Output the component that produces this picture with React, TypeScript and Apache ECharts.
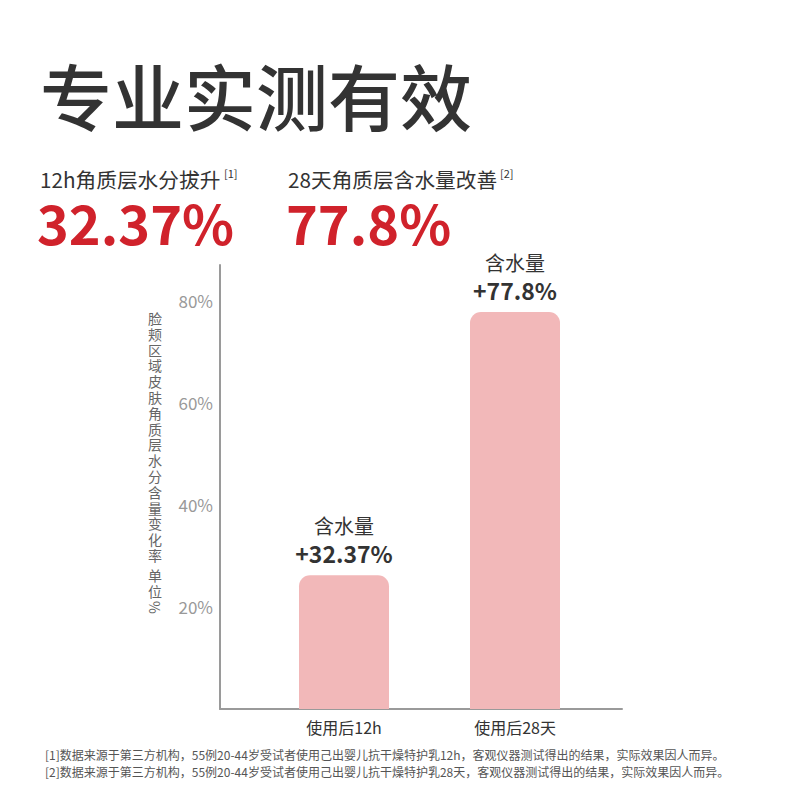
import React, { useEffect, useRef } from "react";
import * as echarts from "echarts";

const categories = ["使用后12h", "使用后28天"];
// bar heights as drawn in the picture (percent on the y axis)
const barHeights = [26.2, 77.8];
// texts written above the bars
const barLabelTitles = ["含水量", "含水量"];
const barLabelValues = ["+32.37%", "+77.8%"];
const yTickValues = [20, 40, 60, 80];

const title = "专业实测有效";
const headlines = ["12h角质层水分拔升", "28天角质层含水量改善"];
const headlineRefs = ["[1]", "[2]"];
const headlineValues = ["32.37%", "77.8%"];
const yAxisNameChars = "脸颊区域皮肤角质层水分含量变化率";
const yAxisUnitChars = "单位";
const footnotes = [
  "[1]数据来源于第三方机构，55例20-44岁受试者使用己出婴儿抗干燥特护乳12h，客观仪器测试得出的结果，实际效果因人而异。",
  "[2]数据来源于第三方机构，55例20-44岁受试者使用己出婴儿抗干燥特护乳28天，客观仪器测试得出的结果，实际效果因人而异。",
];

const FONT = '"Noto Sans CJK SC", "Noto Sans", sans-serif';
const DARK = "#333333";
const RED = "#d0222b";
const AXIS = "#9a9a9a";

export default function App() {
  const ref = useRef<HTMLDivElement>(null);
  useEffect(() => {
    if (!ref.current) return;
    const chart = echarts.init(ref.current, null, { renderer: "svg", width: 800, height: 800 });
    const yMax = 87;
    const nameTexts: any[] = [];
    yAxisNameChars.split("").forEach((c, i) => {
      nameTexts.push({
        type: "text",
        x: 155,
        y: 318 + i * 15.8,
        style: { text: c, font: `14px ${FONT}`, fill: "#666666", textAlign: "center", textVerticalAlign: "middle" },
      });
    });
    yAxisUnitChars.split("").forEach((c, i) => {
      nameTexts.push({
        type: "text",
        x: 155,
        y: 575 + i * 15.8,
        style: { text: c, font: `14px ${FONT}`, fill: "#666666", textAlign: "center", textVerticalAlign: "middle" },
      });
    });
    nameTexts.push({
      type: "text",
      x: 155,
      y: 601,
      rotation: -Math.PI / 2,
      style: { text: "%", font: `14px ${FONT}`, fill: "#666666", textAlign: "left", textVerticalAlign: "middle" },
    });
    const option: any = {
      animation: false,
      backgroundColor: "#ffffff",
      textStyle: { fontFamily: FONT },
      grid: [
        { left: 220, top: 265, width: 402, height: 444 },
        { left: 258.5, top: 265, width: 342, height: 444 },
      ],
      xAxis: [
        {
          gridIndex: 0,
          type: "category",
          data: categories,
          axisLine: { show: true, lineStyle: { color: AXIS, width: 2 } },
          axisTick: { show: false },
          axisLabel: { show: false },
        },
        {
          gridIndex: 1,
          type: "category",
          data: categories,
          axisLine: { show: false },
          axisTick: { show: false },
          axisLabel: { color: DARK, fontSize: 16, margin: 10, fontFamily: FONT },
        },
      ],
      yAxis: [
        {
          gridIndex: 0,
          type: "value",
          min: 0,
          max: yMax,
          axisLine: { show: true, lineStyle: { color: AXIS, width: 2 } },
          axisTick: { show: false },
          splitLine: { show: false },
          axisLabel: {
            customValues: yTickValues,
            color: "#999999",
            fontSize: 17,
            margin: 7,
            fontFamily: FONT,
            formatter: (v: number) => v + "%",
          },
        },
        {
          gridIndex: 1,
          type: "value",
          min: 0,
          max: yMax,
          show: false,
          splitLine: { show: false },
        },
      ],
      series: [
        {
          type: "bar",
          xAxisIndex: 1,
          yAxisIndex: 1,
          barWidth: 90,
          data: barHeights.map((v, i) => ({
            value: v,
            label: {
              formatter: "{a|" + barLabelTitles[i] + "}\n{b|" + barLabelValues[i] + "}",
            },
          })),
          itemStyle: { color: "#f2b8b9", borderRadius: [11, 11, 0, 0] },
          label: {
            show: true,
            position: "top",
            distance: 8,
            rich: {
              a: { fontSize: 20, lineHeight: 27, color: DARK, fontFamily: FONT, align: "center" },
              b: { fontSize: 23, lineHeight: 28, color: DARK, fontWeight: "bold", fontFamily: FONT, align: "center" },
            },
          },
        },
      ],
      graphic: [
        {
          type: "text",
          left: 40,
          top: 57,
          style: { text: title, font: `500 72px ${FONT}`, fill: DARK },
        },
        {
          type: "text",
          x: 40,
          y: 179,
          style: { text: headlines[0], font: `20.7px ${FONT}`, fill: DARK, textVerticalAlign: "middle" },
        },
        {
          type: "text",
          x: 224,
          y: 173,
          style: { text: headlineRefs[0], font: `11px ${FONT}`, fill: DARK, textVerticalAlign: "middle" },
        },
        {
          type: "text",
          x: 288,
          y: 179,
          style: { text: headlines[1], font: `20.7px ${FONT}`, fill: DARK, textVerticalAlign: "middle" },
        },
        {
          type: "text",
          x: 500,
          y: 173,
          style: { text: headlineRefs[1], font: `11px ${FONT}`, fill: DARK, textVerticalAlign: "middle" },
        },
        {
          type: "text",
          x: 37,
          y: 221,
          style: { text: headlineValues[0], font: `bold 54px ${FONT}`, fill: RED, textVerticalAlign: "middle" },
        },
        {
          type: "text",
          x: 286,
          y: 221,
          style: { text: headlineValues[1], font: `bold 54px ${FONT}`, fill: RED, textVerticalAlign: "middle" },
        },
        ...nameTexts,
        {
          type: "text",
          x: 45,
          y: 754,
          style: { text: footnotes[0], font: `12px ${FONT}`, fill: "#555555", textVerticalAlign: "middle" },
        },
        {
          type: "text",
          x: 45,
          y: 771,
          style: { text: footnotes[1], font: `12px ${FONT}`, fill: "#555555", textVerticalAlign: "middle" },
        },
      ],
    };
    chart.setOption(option);
    return () => chart.dispose();
  }, []);
  return (
    <div
      ref={ref}
      style={{ position: "absolute", left: 0, top: 0, width: 800, height: 800, background: "#fff" }}
    />
  );
}
